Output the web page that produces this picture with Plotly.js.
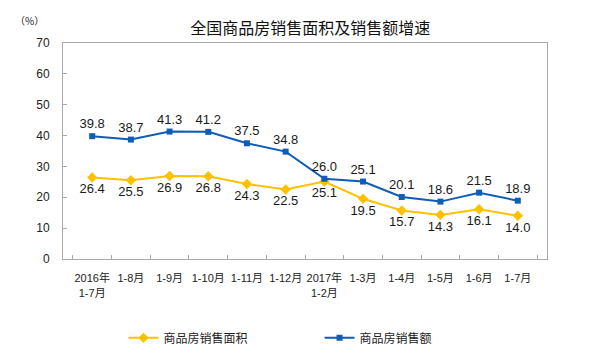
<!DOCTYPE html>
<html>
<head>
<meta charset="utf-8">
<script src="https://cdn.plot.ly/plotly-3.0.1.min.js"></script>
<style>html,body{margin:0;padding:0;background:#fff;}#chart{width:600px;height:358px;}</style>
</head>
<body>
<div id="chart"></div>
<script>
var categories = ["2016年<br>1-7月", "1-8月", "1-9月", "1-10月", "1-11月", "1-12月", "2017年<br>1-2月", "1-3月", "1-4月", "1-5月", "1-6月", "1-7月"];
var areaGrowth = [26.4, 25.5, 26.9, 26.8, 24.3, 22.5, 25.1, 19.5, 15.7, 14.3, 16.1, 14.0];
var salesGrowth = [39.8, 38.7, 41.3, 41.2, 37.5, 34.8, 26.0, 25.1, 20.1, 18.6, 21.5, 18.9];
var yTicks = [0, 10, 20, 30, 40, 50, 60, 70];

var cjk = '"Noto Sans CJK SC", "Noto Sans", sans-serif';
var mixed = '"Liberation Sans", "Noto Sans CJK SC", sans-serif';
var traces = [
  {
    x: categories, y: areaGrowth, name: "商品房销售面积", legend: "legend",
    type: "scatter", mode: "lines+markers+text",
    text: areaGrowth.map(function(v){return v.toFixed(1);}),
    textposition: "bottom center",
    textfont: {family: "Liberation Sans, Arial, sans-serif", size: 13, color: "#1a1a1a"},
    line: {color: "#FFC000", width: 2},
    marker: {symbol: "diamond", size: 8, color: "#FFC000"},
    cliponaxis: false
  },
  {
    x: categories, y: salesGrowth, name: "商品房销售额", legend: "legend2",
    type: "scatter", mode: "lines+markers+text",
    text: salesGrowth.map(function(v){return v.toFixed(1);}),
    textposition: "top center",
    textfont: {family: "Liberation Sans, Arial, sans-serif", size: 13, color: "#1a1a1a"},
    line: {color: "#0E5DB8", width: 2},
    marker: {symbol: "square", size: 6, color: "#0E5DB8"},
    cliponaxis: false
  }
];

var legendFont = {family: cjk, size: 12, color: "#222"};
var layout = {
  width: 600, height: 358,
  margin: {l: 63, r: 53, t: 43, b: 99, autoexpand: false},
  paper_bgcolor: "#fff", plot_bgcolor: "#fff",
  title: {text: "全国商品房销售面积及销售额增速", font: {family: cjk, size: 16, color: "#111"}, x: 0.517, xanchor: "center", y: 0.92, yanchor: "middle"},
  showlegend: true,
  legend: {orientation: "h", x: 0.125, y: -0.365, xanchor: "left", yanchor: "middle", font: legendFont, itemwidth: 30, bgcolor: "rgba(0,0,0,0)"},
  legend2: {orientation: "h", x: 0.53, y: -0.365, xanchor: "left", yanchor: "middle", font: legendFont, itemwidth: 30, bgcolor: "rgba(0,0,0,0)"},
  xaxis: {
    type: "category", tickson: "boundaries", ticks: "inside", ticklen: 4, tickcolor: "#aaa", tickangle: 0,
    showline: true, linecolor: "#aaa", linewidth: 1, mirror: true, showgrid: false, zeroline: false, automargin: false,
    tickfont: {family: mixed, size: 11, color: "#222"}, ticklabelstandoff: 9, fixedrange: true
  },
  yaxis: {
    range: [0, 70], tickvals: yTicks, ticktext: yTicks.map(String), ticks: "inside", ticklen: 4, tickcolor: "#aaa",
    showline: true, linecolor: "#aaa", linewidth: 1, mirror: true, showgrid: false, zeroline: false, automargin: false,
    tickfont: {family: "Liberation Sans, Arial, sans-serif", size: 12, color: "#222"}, ticklabelstandoff: 10, fixedrange: true
  },
  annotations: [
    {text: "（%）", xref: "paper", yref: "paper", x: -0.07, y: 1.105, xanchor: "center", yanchor: "middle",
     showarrow: false, font: {family: cjk, size: 10, color: "#222"}}
  ]
};
Plotly.newPlot("chart", traces, layout, {displayModeBar: false, staticPlot: true});
</script>
</body>
</html>
